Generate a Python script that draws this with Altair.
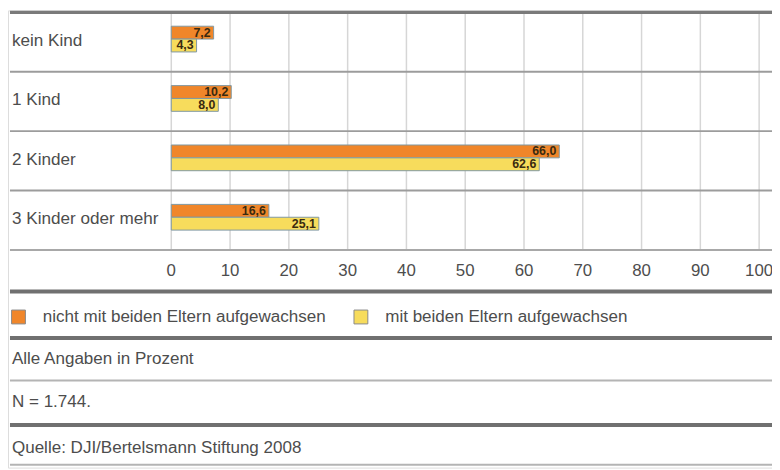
import altair as alt
import pandas as pd

cats = ["kein Kind", "1 Kind", "2 Kinder", "3 Kinder oder mehr"]
series = ["nicht mit beiden Eltern aufgewachsen", "mit beiden Eltern aufgewachsen"]
nicht = [7.2, 10.2, 66.0, 16.6]
mit = [4.3, 8.0, 62.6, 25.1]
ticks = [0, 10, 20, 30, 40, 50, 60, 70, 80, 90, 100]
notes = ["Alle Angaben in Prozent", "N = 1.744.", "Quelle: DJI/Bertelsmann Stiftung 2008"]

FONT = "Liberation Sans, Arial, sans-serif"
W, H = 772, 462

rows = []
for c, a, b in zip(cats, nicht, mit):
    rows.append({"cat": c, "series": series[0], "value": a})
    rows.append({"cat": c, "series": series[1], "value": b})
df = pd.DataFrame(rows)
df_cats = pd.DataFrame({"cat": cats})
df_ticks = pd.DataFrame({"tick": ticks})

xscale = alt.Scale(domain=[0, 100], range=[165, 759])
yscale = alt.Scale(domain=cats, range=[-1, 239], paddingInner=0.567, paddingOuter=0.283)
cscale = alt.Scale(domain=series, range=["#F0862A", "#F7DC5C"])
oscale = alt.Scale(domain=series, paddingInner=0, paddingOuter=0)

one = pd.DataFrame({"k": [0]})

def hline(y, width, color):
    return alt.Chart(one).mark_rule(color=color, strokeWidth=width).encode(
        x=alt.value(2), x2=alt.value(W), y=alt.value(y)
    )

grid = alt.Chart(df_ticks).mark_rule(color="#d6d6d6", strokeWidth=1.5).encode(
    x=alt.X("tick:Q", scale=xscale, axis=None),
    y=alt.value(2), y2=alt.value(242),
)

tick_labels = alt.Chart(df_ticks).mark_text(
    font=FONT, fontSize=17, color="#4d4d4d", baseline="middle", align="center"
).encode(
    x=alt.X("tick:Q", scale=xscale, axis=None),
    y=alt.value(263),
    text=alt.Text("tick:Q"),
)

bars = alt.Chart(df).mark_bar(stroke="#7f98a2", strokeWidth=1).encode(
    x=alt.X("value:Q", scale=xscale, axis=None),
    y=alt.Y("cat:N", scale=yscale, sort=cats, axis=None),
    yOffset=alt.YOffset("series:N", sort=series, scale=oscale),
    color=alt.Color(
        "series:N", scale=cscale, sort=series,
        legend=alt.Legend(
            title=None, orient="none", legendX=2, legendY=301, direction="horizontal",
            symbolType="square", symbolSize=196, symbolStrokeColor="#8a8a8a", symbolStrokeWidth=1,
            symbolOpacity=1, labelFont=FONT, labelFontSize=17.2, labelColor="#4d4d4d",
            labelOffset=16, columnPadding=26, labelLimit=400,
        ),
    ),
)

values = alt.Chart(df).transform_calculate(
    label="replace(format(datum.value, '.1f'), '.', ',')"
).mark_text(
    font=FONT, fontSize=12.5, fontWeight="bold", color="#3a2a10", align="right", baseline="middle", dx=-3
).encode(
    x=alt.X("value:Q", scale=xscale, axis=None),
    y=alt.Y("cat:N", scale=yscale, sort=cats, axis=None),
    yOffset=alt.YOffset("series:N", sort=series, scale=oscale),
    text="label:N",
)

row_labels = alt.Chart(df_cats).mark_text(
    font=FONT, fontSize=17.3, color="#4d4d4d", align="left", baseline="middle", dy=2
).encode(
    x=alt.value(4),
    y=alt.Y("cat:N", scale=yscale, sort=cats, axis=None),
    text="cat:N",
)

def note(text, y):
    return alt.Chart(one).mark_text(
        font=FONT, fontSize=17.2, color="#4d4d4d", align="left", baseline="middle"
    ).encode(x=alt.value(4), y=alt.value(y), text=alt.value(text))

layers = [
    grid,
    hline(2, 3.5, "#7a7a7a"),
    hline(62, 2, "#9c9c9c"),
    hline(122, 2, "#9c9c9c"),
    hline(182, 2, "#9c9c9c"),
    hline(242, 2, "#a8a8a8"),
    hline(284, 4, "#707070"),
    hline(331, 4, "#707070"),
    hline(374, 2, "#b4b4b4"),
    hline(419, 4, "#707070"),
    hline(459, 2, "#b4b4b4"),
    bars,
    values,
    row_labels,
    tick_labels,
    note(notes[0], 352),
    note(notes[1], 396),
    note(notes[2], 442),
]

chart = alt.layer(*layers).properties(
    width=W, height=H, autosize=alt.AutoSizeParams(type="none"), padding=0
).configure_view(stroke=None).configure(background="white")

chart.save("out.html", embed_options={"renderer": "svg", "actions": False})
